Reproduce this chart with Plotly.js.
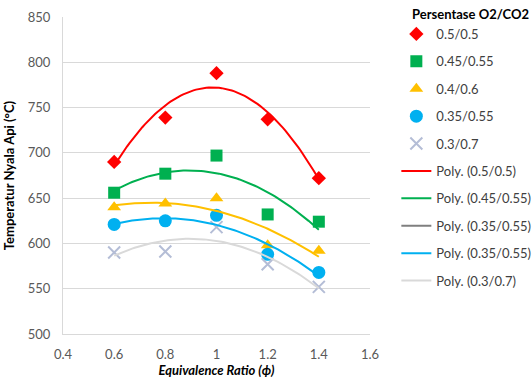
<!DOCTYPE html>
<html><head><meta charset="utf-8">
<script src="https://cdn.plot.ly/plotly-3.0.1.min.js"></script>
<style>html,body{margin:0;padding:0;background:#fff}#chart{width:532px;height:380px}</style>
</head><body><div id="chart"></div>
<script>
const phi = [0.6, 0.8, 1.0, 1.2, 1.4];
const names = ["0.5/0.5", "0.45/0.55", "0.4/0.6", "0.35/0.55", "0.3/0.7"];
const t050 = [690, 739, 788, 737, 672];
const t045 = [656, 677, 697, 632, 624];
const t040 = [640, 644, 650, 598, 592];
const t035 = [621, 625, 631, 588, 568];
const t030 = [590, 591, 618, 577, 552];
const series = [t050, t045, t040, t035, t030];
const trendNames = ["Poly. (0.5/0.5)", "Poly. (0.45/0.55)", "Poly. (0.35/0.55)", "Poly. (0.35/0.55)", "Poly. (0.3/0.7)"];
const legendTitle = "Persentase O2/CO2";

const colors = ["#ff0000", "#00b050", "#ffc000", "#00b0f0", "#b4bdd6"];
const lineColors = ["#ff0000", "#00b050", "#ffc000", "#00b0f0", "#d9d9d9"];
const symbols = ["diamond", "square", "triangle-up", "circle", "x-thin-open"];
const sizes = [11, 12, 12, 13, 12];

// quadratic least squares fit (Excel polynomial trendline, order 2)
function polyfit2(xs, ys) {
  let n = xs.length, sx=0,sx2=0,sx3=0,sx4=0,sy=0,sxy=0,sx2y=0;
  for (let i=0;i<n;i++){const x=xs[i],y=ys[i];sx+=x;sx2+=x*x;sx3+=x*x*x;sx4+=x*x*x*x;sy+=y;sxy+=x*y;sx2y+=x*x*y;}
  const A=[[n,sx,sx2,sy],[sx,sx2,sx3,sxy],[sx2,sx3,sx4,sx2y]];
  for (let i=0;i<3;i++){for(let k=i+1;k<3;k++){const f=A[k][i]/A[i][i];for(let j=i;j<4;j++)A[k][j]-=f*A[i][j];}}
  const c=[0,0,0];
  for (let i=2;i>=0;i--){let s=A[i][3];for(let j=i+1;j<3;j++)s-=A[i][j]*c[j];c[i]=s/A[i][i];}
  return c;
}
const xs = [];
for (let i=0;i<=80;i++) xs.push(phi[0] + (phi[phi.length-1]-phi[0])*i/80);

const traces = [];
series.forEach((s, i) => {
  traces.push({
    x: phi, y: s, mode: "markers", type: "scatter", name: names[i], legendgroup: "m"+i,
    marker: {symbol: symbols[i], size: sizes[i], color: colors[i],
      line: symbols[i]==="x-thin-open" ? {color: colors[i], width: 2} : {width: 0}}
  });
});
const fitTraces = series.map((s, i) => {
  const c = polyfit2(phi, s);
  return {x: xs, y: xs.map(x => c[0] + c[1]*x + c[2]*x*x), mode: "lines", type: "scatter",
    name: trendNames[i], legendgroup: "l"+i, line: {color: lineColors[i], width: 2}, hoverinfo: "skip"};
});
traces.push(fitTraces[0]);
traces.push(fitTraces[1]);
traces.push({x: [null], y: [null], mode: "lines", type: "scatter", name: trendNames[2], legendgroup: "l2",
  line: {color: "#7f7f7f", width: 2}});
traces.push(fitTraces[3]);
traces.push(fitTraces[4]);
traces.push(Object.assign({}, fitTraces[2], {showlegend: false}));

const font = "Lato, 'Open Sans', 'Liberation Sans', sans-serif";
const layout = {
  width: 532, height: 380,
  margin: {l: 63, r: 162, t: 17, b: 46},
  paper_bgcolor: "#fff", plot_bgcolor: "#fff",
  font: {family: font, size: 13, color: "#595959"},
  showlegend: true,
  legend: {
    xref: "container", yref: "container", x: 0.745, y: 0.95, xanchor: "left", yanchor: "top",
    font: {family: font, size: 13, color: "#404040"},
    tracegroupgap: 7.5, itemwidth: 30, bgcolor: "rgba(0,0,0,0)", maxheight: 1
  },
  annotations: [{
    xref: "paper", yref: "paper", x: 1.13, y: 1.01, xanchor: "left", yanchor: "middle",
    text: "<b>" + legendTitle + "</b>", showarrow: false, font: {family: font, size: 13, color: "#000"}
  }],
  xaxis: {
    range: [0.4, 1.6], dtick: 0.2, tick0: 0.4, showgrid: false, zeroline: false,
    showline: true, linecolor: "#d9d9d9", linewidth: 1, ticks: "", ticklabelstandoff: 8,
    tickfont: {size: 13, color: "#595959"},
    title: {text: "<b><i>Equivalence Ratio (ϕ)</i></b>", font: {size: 13, color: "#000"}, standoff: 5}
  },
  yaxis: {
    range: [500, 850], dtick: 50, tick0: 500, showgrid: true, gridcolor: "#d9d9d9", gridwidth: 1,
    zeroline: false, showline: true, linecolor: "#d9d9d9", ticks: "", ticklabelstandoff: 9,
    tickfont: {size: 13, color: "#595959"},
    title: {text: "<b>Temperatur Nyala Api (°C)</b>", font: {size: 13, color: "#000"}, standoff: 10}
  }
};
Plotly.newPlot("chart", traces, layout, {displayModeBar: false, staticPlot: true});
</script></body></html>
